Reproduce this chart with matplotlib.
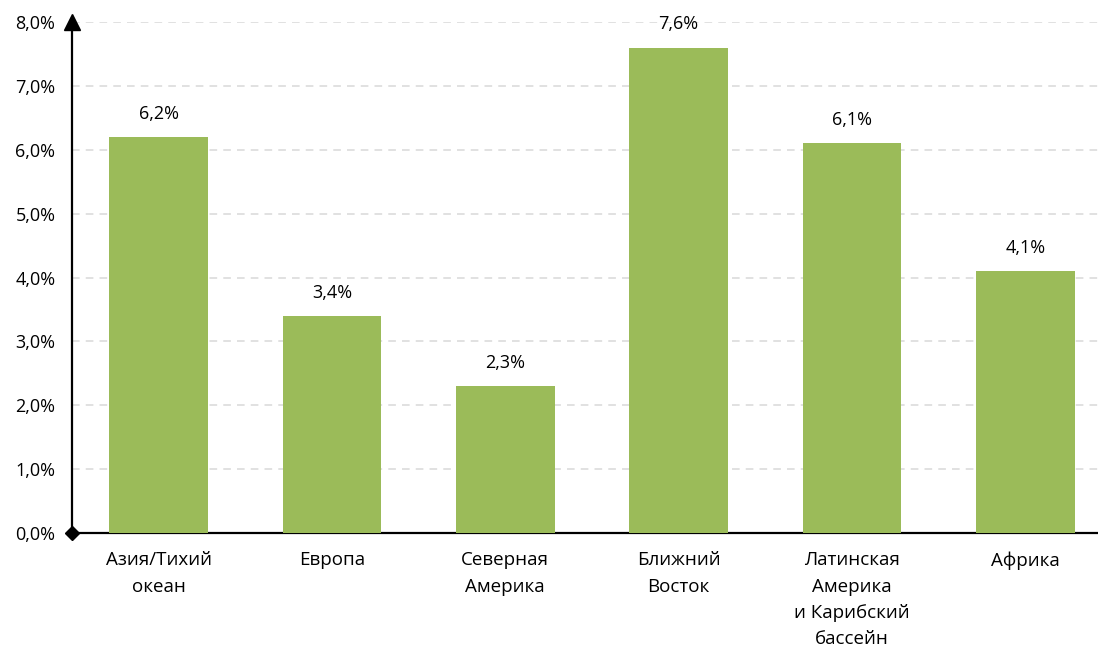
import matplotlib.pyplot as plt
from matplotlib.ticker import FuncFormatter

plt.rcParams['font.family'] = ['Open Sans', 'DejaVu Sans']

regions = ['Азия/Тихий\nокеан', 'Европа', 'Северная\nАмерика', 'Ближний\nВосток',
           'Латинская\nАмерика\nи Карибский\nбассейн', 'Африка']
growth = [6.2, 3.4, 2.3, 7.6, 6.1, 4.1]

fig = plt.figure(figsize=(10.98, 6.47), dpi=100)
ax = fig.add_axes([0.0656, 0.176, 0.9344, 0.790])

x = range(len(regions))
ax.bar(x, growth, width=0.57, color='#9BBB59', zorder=3)
for i, v in zip(x, growth):
    ax.text(i, v + 0.22, f'{v:.1f}%'.replace('.', ','), ha='center', va='bottom', fontsize=13)

ax.set_xlim(-0.5, 5.42)
ax.set_ylim(0, 8)
ax.set_yticks(range(0, 9))
ax.yaxis.set_major_formatter(FuncFormatter(lambda v, p: f'{v:.1f}%'.replace('.', ',')))
ax.set_xticks(list(x))
ax.set_xticklabels(regions, fontsize=13.5, linespacing=1.6)
ax.tick_params(axis='y', labelsize=13, length=0, pad=12)
ax.tick_params(axis='x', length=0, pad=13)

ax.grid(axis='y', color='#D9D9D9', linestyle=(0, (5, 4)), linewidth=1.1, zorder=0)
for s in ['top', 'right']:
    ax.spines[s].set_visible(False)
ax.spines['left'].set_linewidth(1.6)
ax.spines['bottom'].set_linewidth(1.6)

# arrow on top of y axis and diamond at origin
ax.plot([-0.5], [8.0], marker='^', markersize=11, color='black', clip_on=False, zorder=5)
ax.plot([-0.5], [0.0], marker='D', markersize=7, color='black', clip_on=False, zorder=5)

fig.savefig('out.png', dpi=100)
